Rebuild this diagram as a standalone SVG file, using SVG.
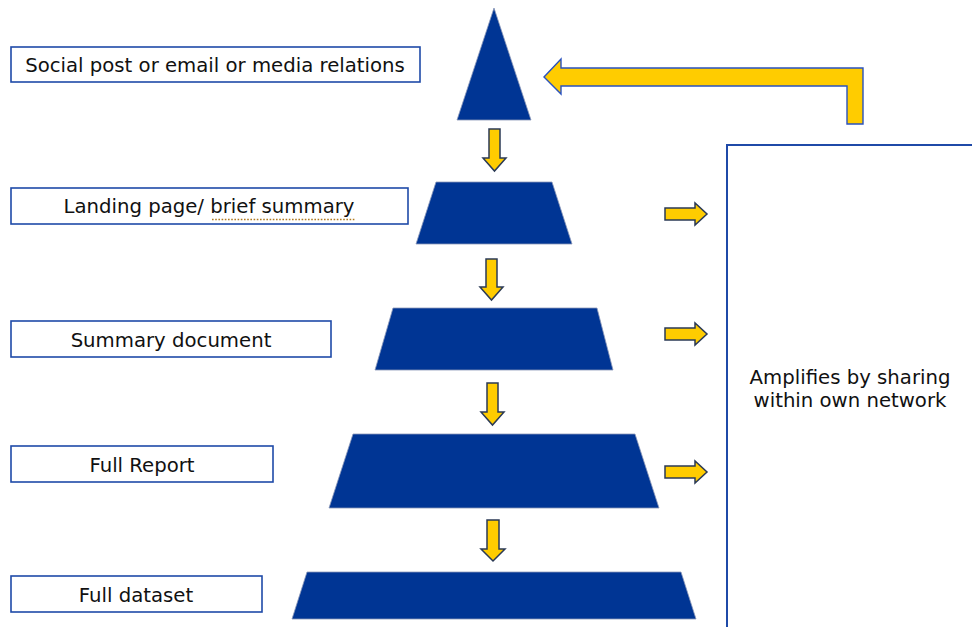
<svg xmlns="http://www.w3.org/2000/svg" width="972" height="627" viewBox="0 0 972 627">
<style>
.lbl{fill:#fff;stroke:#1f4aa8;stroke-width:1.6}
.txt{font-family:"DejaVu Sans","Verdana",sans-serif;font-size:19.7px;fill:#111;text-anchor:middle}
.tier{fill:#003594;stroke:#8a97b8;stroke-width:0.8}
.ya{fill:#ffcc00;stroke:#2b3a55;stroke-width:1.5;stroke-linejoin:miter}
.big{fill:#ffcc00;stroke:#2a52be;stroke-width:1.4}
</style>
<rect width="972" height="627" fill="#fff"/>
<g id="label-social"><rect class="lbl" x="11" y="47" width="409" height="35"/><text class="txt" x="215" y="72">Social post or email or media relations</text></g>
<g id="label-landing"><rect class="lbl" x="11" y="188" width="397" height="36"/><text class="txt" x="209" y="213">Landing page/ brief summary</text><line x1="212" y1="219.5" x2="355" y2="219.5" stroke="#b07a20" stroke-width="1.6" stroke-dasharray="1.6,1.6"/></g>
<g id="label-summary"><rect class="lbl" x="11" y="321" width="320" height="36"/><text class="txt" x="171" y="346.5">Summary document</text></g>
<g id="label-report"><rect class="lbl" x="11" y="446" width="262" height="36"/><text class="txt" x="142" y="471.5">Full Report</text></g>
<g id="label-dataset"><rect class="lbl" x="11" y="576" width="251" height="36"/><text class="txt" x="136" y="601.5">Full dataset</text></g>
<g id="tier-1"><polygon class="tier" points="494,8 531,120 457,120"/></g>
<g id="tier-2"><polygon class="tier" points="436,182 552,182 572,244 416,244"/></g>
<g id="tier-3"><polygon class="tier" points="393,308 597,308 613,370 375,370"/></g>
<g id="tier-4"><polygon class="tier" points="353,434 635,434 659,508 329,508"/></g>
<g id="tier-5"><polygon class="tier" points="307,572 681,572 696,619 292,619"/></g>
<g id="amplify-box"><rect x="727" y="145" width="270" height="500" fill="#fff" stroke="#1f4aa8" stroke-width="2"/><text class="txt" x="850" y="384">Amplifies by sharing</text><text class="txt" x="850" y="407">within own network</text></g>
<g id="connectors">
<polygon class="ya" points="489,129 500,129 500,158 506,158 494.5,171 483,158 489,158"/>
<polygon class="ya" points="486,259 497,259 497,287 503,287 491.5,300 480,287 486,287"/>
<polygon class="ya" points="487,383 498,383 498,412 504,412 492.5,425 481,412 487,412"/>
<polygon class="ya" points="487,520 499,520 499,549 505,549 493,561 481,549 487,549"/>
<polygon class="ya" points="665,208 695,208 695,203 707,214 695,225 695,220 665,220"/>
<polygon class="ya" points="665,328 695,328 695,323 707,334 695,345 695,340 665,340"/>
<polygon class="ya" points="665,466 695,466 695,461 707,472 695,483 695,478 665,478"/>
<polygon class="big" points="544,77 561,59 561,68 863,68 863,124 847,124 847,86 561,86 561,94"/>
</g>
</svg>
